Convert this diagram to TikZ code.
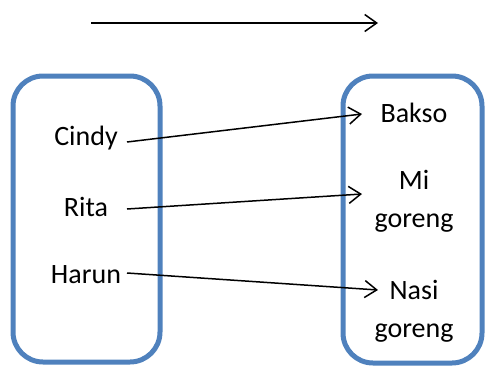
\documentclass[tikz,border=0pt]{standalone}
\usepackage{fontspec}
\setmainfont{Carlito}
\usetikzlibrary{arrows.meta}
\definecolor{boxblue}{HTML}{4F81BD}
\tikzset{
  setbox/.style={draw=boxblue, line width=5pt, rounded corners=30pt},
  lbl/.style={font=\fontsize{28}{34}\selectfont, inner sep=0pt, text=black},
  conn/.style={draw=black, line width=1.5pt, -{Straight Barb[length=12pt,width=17pt,line width=1.5pt]}}
}
\begin{document}
\begin{tikzpicture}[x=1pt,y=-1pt]
\useasboundingbox (0,0) rectangle (485,367);
\draw[setbox] (13,76) rectangle (160,362);
\draw[setbox] (343,76) rectangle (482,363);
\node[lbl] (cindy) at (86,138) {Cindy};
\node[lbl] (rita) at (86,207) {Rita};
\node[lbl] (harun) at (86,275) {Harun};
\node[lbl] (bakso) at (414,113) {Bakso};
\node[lbl] (mi) at (414,180) {Mi};
\node[lbl] (mig) at (414,223) {goreng};
\node[lbl] (nasi) at (414,290) {Nasi};
\node[lbl] (nasig) at (414,333) {goreng};
\coordinate (t1) at (91,23);
\coordinate (t2) at (378,23);
\coordinate (c1) at (127,142);
\coordinate (c2) at (362,114);
\coordinate (r1) at (127,209);
\coordinate (r2) at (362,194);
\coordinate (h1) at (127,273);
\coordinate (h2) at (378,290);
\draw[conn] (t1) -- (t2);
\draw[conn] (c1) -- (c2);
\draw[conn] (r1) -- (r2);
\draw[conn] (h1) -- (h2);
\end{tikzpicture}
\end{document}
